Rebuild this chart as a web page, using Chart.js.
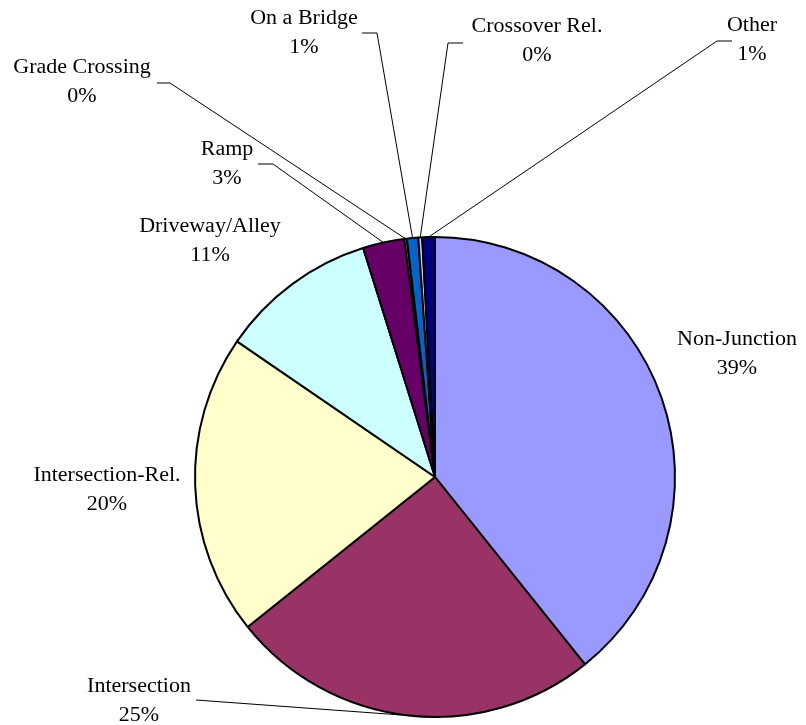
<!DOCTYPE html>
<html>
<head>
<meta charset="utf-8">
<script src="https://cdn.jsdelivr.net/npm/chart.js@4/dist/chart.umd.min.js"></script>
<style>
  html, body { margin: 0; padding: 0; background: #ffffff; }
  canvas { display: block; }
</style>
</head>
<body>
<canvas id="pie" width="806" height="725"></canvas>
<script>
// Crash location by junction type (share of total, %)
const categories = [
  'Non-Junction', 'Intersection', 'Intersection-Rel.', 'Driveway/Alley',
  'Ramp', 'Grade Crossing', 'On a Bridge', 'Crossover Rel.', 'Other'
];
const shares = [39.26, 25.0, 20.3, 10.6, 2.8, 0.17, 0.76, 0.26, 0.85];
const sliceColors = [
  '#9999FF', '#993366', '#FFFFCC', '#CCFFFF',
  '#660066', '#FF8080', '#0066CC', '#CCCCFF', '#000080'
];

// Label placement: text centre, optional leader start (with short elbow)
const labelLayout = [
  { x: 737, y: 340 },
  { x: 139, y: 687, lead: [[196, 700]] },
  { x: 107, y: 476 },
  { x: 210, y: 227 },
  { x: 227, y: 150, lead: [[258, 164], [273, 164]] },
  { x: 82,  y: 68,  lead: [[157, 83], [170, 83]] },
  { x: 304, y: 19,  lead: [[362, 33], [377, 33]] },
  { x: 537, y: 27,  lead: [[463, 43], [448, 43]] },
  { x: 752, y: 26,  lead: [[732, 41], [717, 41]] }
];

const calloutPlugin = {
  id: 'callouts',
  afterDatasetsDraw(chart) {
    const ctx = chart.ctx;
    const meta = chart.getDatasetMeta(0);
    const values = chart.data.datasets[0].data;
    const total = values.reduce((a, b) => a + b, 0);
    ctx.save();
    // leader lines
    ctx.strokeStyle = '#000000';
    ctx.lineWidth = 1;
    meta.data.forEach((arc, i) => {
      const lay = labelLayout[i];
      if (!lay.lead) return;
      const p = arc.getProps(['x', 'y', 'startAngle', 'endAngle', 'outerRadius'], true);
      const mid = (p.startAngle + p.endAngle) / 2;
      const ex = p.x + Math.cos(mid) * p.outerRadius;
      const ey = p.y + Math.sin(mid) * p.outerRadius;
      ctx.beginPath();
      ctx.moveTo(lay.lead[0][0], lay.lead[0][1]);
      for (let k = 1; k < lay.lead.length; k++) ctx.lineTo(lay.lead[k][0], lay.lead[k][1]);
      ctx.lineTo(ex, ey);
      ctx.stroke();
    });
    // text
    ctx.fillStyle = '#000000';
    ctx.font = '20px "Liberation Serif", "Times New Roman", serif';
    ctx.textAlign = 'center';
    ctx.textBaseline = 'middle';
    const drawText = (t, x, y) => {
      ctx.save();
      ctx.translate(x, y);
      ctx.scale(1.1, 1);
      ctx.fillText(t, 0, 0);
      ctx.restore();
    };
    categories.forEach((name, i) => {
      const lay = labelLayout[i];
      const pct = Math.round(values[i] / total * 100) + '%';
      drawText(name, lay.x, lay.y);
      drawText(pct, lay.x, lay.y + 29);
    });
    ctx.restore();
  }
};

new Chart(document.getElementById('pie'), {
  type: 'pie',
  data: {
    labels: categories,
    datasets: [{
      data: shares,
      backgroundColor: sliceColors,
      borderColor: '#000000',
      borderWidth: 2,
      hoverOffset: 0,
      offset: 0
    }]
  },
  options: {
    responsive: false,
    animation: false,
    layout: { padding: { left: 194, right: 130, top: 236, bottom: 7 } },
    plugins: {
      legend: { display: false },
      tooltip: { enabled: false }
    }
  },
  plugins: [calloutPlugin]
});
</script>
</body>
</html>
